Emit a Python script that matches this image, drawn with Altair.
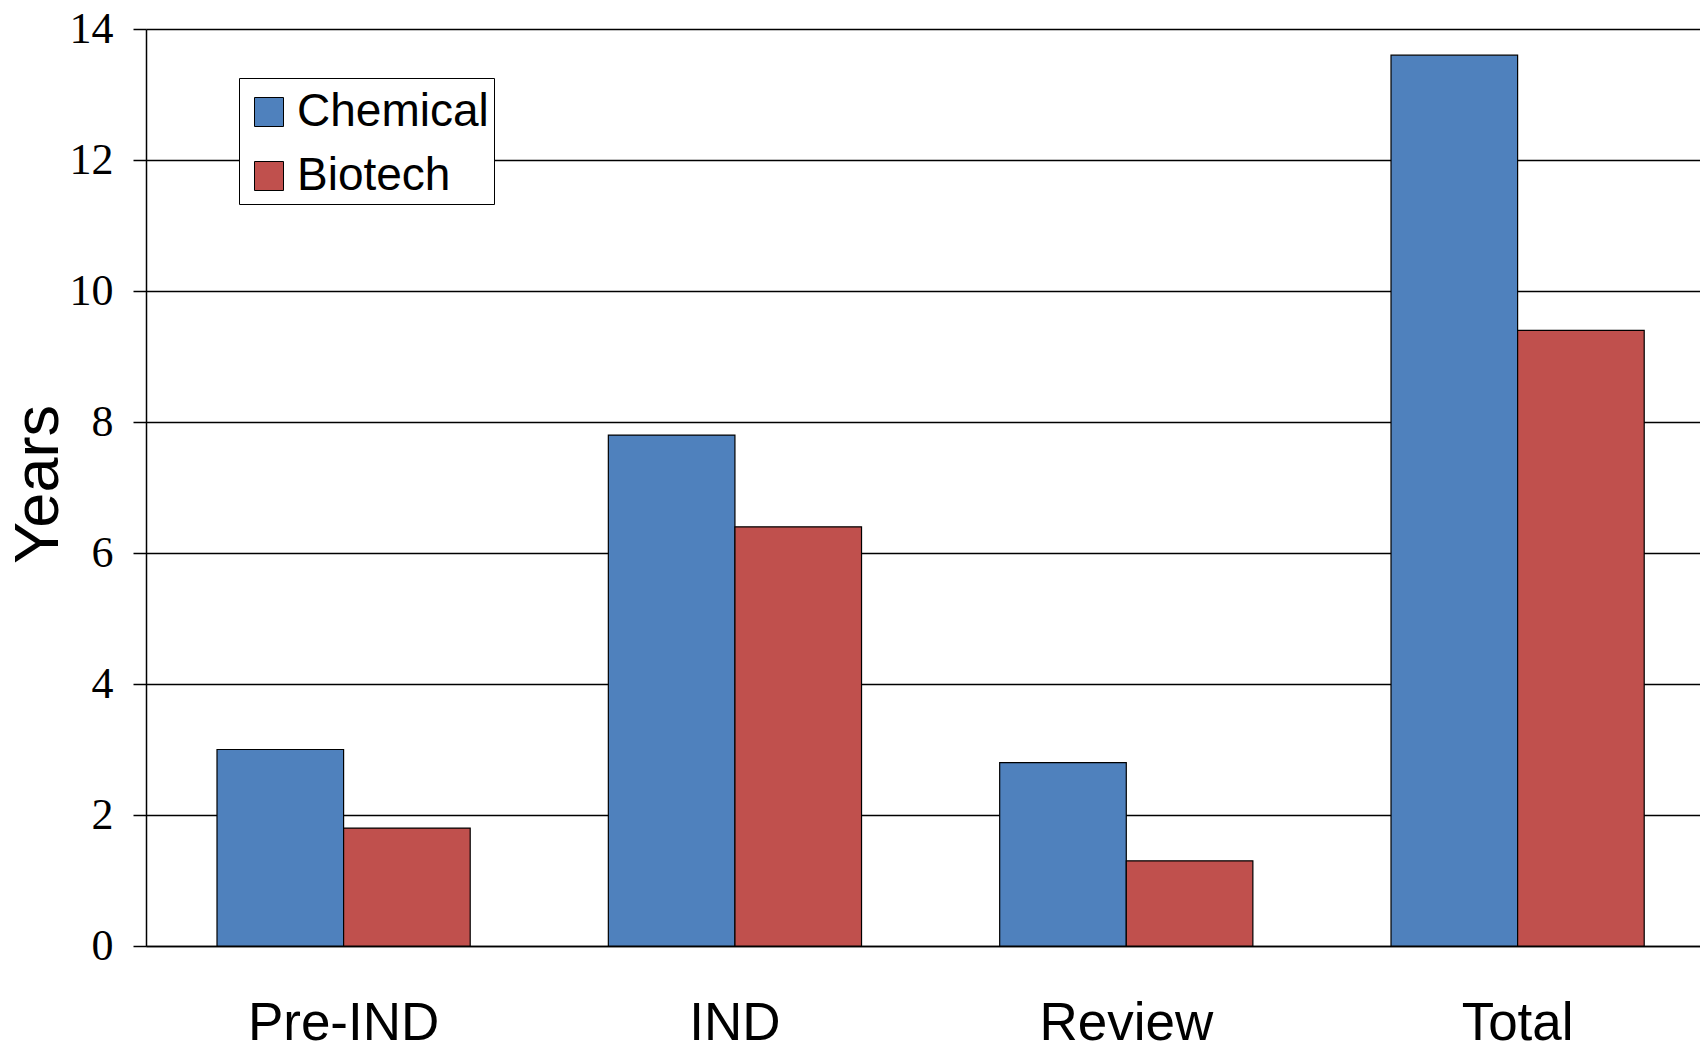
import altair as alt
import pandas as pd

categories = ["Pre-IND", "IND", "Review", "Total"]
series = ["Chemical", "Biotech"]
chemical = [3.0, 7.8, 2.8, 13.6]
biotech = [1.8, 6.4, 1.3, 9.4]
colors = ["#4F81BD", "#C0504D"]
y_ticks = [0, 2, 4, 6, 8, 10, 12, 14]

rows = []
for i, c in enumerate(categories):
    rows.append({"Stage": c, "Type": "Chemical", "Years": chemical[i]})
    rows.append({"Stage": c, "Type": "Biotech", "Years": biotech[i]})
df = pd.DataFrame(rows)

chart = (
    alt.Chart(df)
    .mark_bar(stroke="black", strokeWidth=1.2)
    .encode(
        x=alt.X(
            "Stage:N",
            sort=categories,
            scale=alt.Scale(paddingInner=0.353, paddingOuter=0.162, align=0.56),
            axis=alt.Axis(
                title=None,
                labelAngle=0,
                labelFont="Liberation Sans",
                labelFontSize=53,
                labelColor="black",
                labelPadding=51,
                labelLimit=600,
                ticks=False,
                tickSize=0,
                domainColor="black",
                domainWidth=1.5,
                grid=False,
            ),
        ),
        xOffset=alt.XOffset(
            "Type:N", sort=series, scale=alt.Scale(paddingInner=0, paddingOuter=0)
        ),
        y=alt.Y(
            "Years:Q",
            scale=alt.Scale(domain=[0, 14], nice=False, zero=True),
            axis=alt.Axis(
                values=y_ticks,
                title="Years",
                titleFont="Liberation Sans",
                titleFontSize=63,
                titleFontWeight="normal",
                titleColor="black",
                titleAngle=270,
                titleBaseline="alphabetic",
                titleAlign="center",
                titleX=-89,
                titleY=455,
                labelFont="Liberation Serif",
                labelFontSize=44,
                labelColor="black",
                labelPadding=20,
                tickSize=13,
                tickColor="black",
                tickWidth=1.5,
                domainColor="black",
                domainWidth=1.5,
                grid=True,
                gridColor="black",
                gridWidth=1.3,
            ),
        ),
        color=alt.Color(
            "Type:N",
            sort=series,
            scale=alt.Scale(domain=series, range=colors),
            legend=alt.Legend(
                title=" ",
                titleFontSize=6,
                titlePadding=0,
                orient="none",
                legendX=93,
                legendY=49,
                fillColor="white",
                strokeColor="black",
                padding=5,
                labelFont="Liberation Sans",
                labelFontSize=46,
                labelColor="black",
                labelOffset=5,
                labelLimit=600,
                symbolType="square",
                symbolSize=841,
                symbolOffset=2,
                symbolStrokeColor="black",
                symbolStrokeWidth=1,
                symbolOpacity=1,
                rowPadding=18,
            ),
        ),
    )
    .properties(
        width=1554,
        height=917,
        autosize=alt.AutoSizeParams(type="none"),
        padding={"left": 146, "top": 29, "right": 0, "bottom": 100},
    )
    .configure_view(stroke=None)
    .configure(background="white")
)

chart.save("out.html", embed_options={"renderer": "svg", "actions": False})
